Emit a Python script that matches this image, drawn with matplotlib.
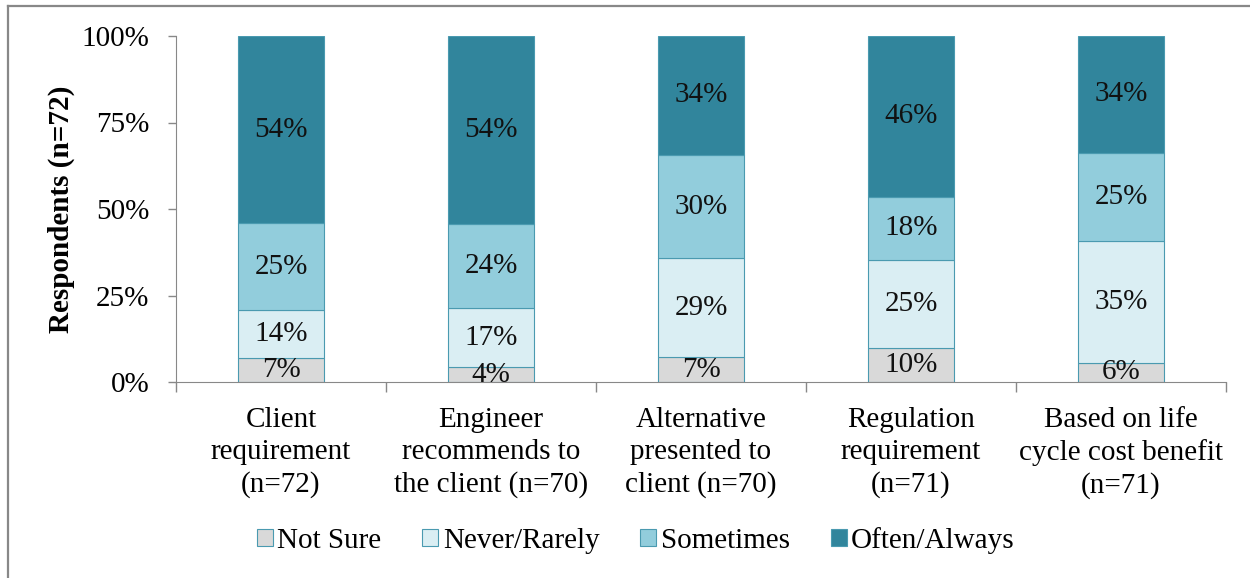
import numpy as np
import matplotlib.pyplot as plt
from matplotlib.lines import Line2D

categories = ["Client\nrequirement\n(n=72)",
              "Engineer\nrecommends to\nthe client (n=70)",
              "Alternative\npresented to\nclient (n=70)",
              "Regulation\nrequirement\n(n=71)",
              "Based on life\ncycle cost benefit\n(n=71)"]
series = ["Not Sure", "Never/Rarely", "Sometimes", "Often/Always"]
# respondent counts per answer (read from the percentages)
not_sure = np.array([5, 3, 5, 7, 4])
never = np.array([10, 12, 20, 18, 25])
sometimes = np.array([18, 17, 21, 13, 18])
often = np.array([39, 38, 24, 33, 24])
colors = ["#D9D9D9", "#DAEEF3", "#92CDDC", "#31859C"]

plt.rcParams['font.family'] = ['Liberation Serif', 'DejaVu Serif']

counts = np.vstack([not_sure, never, sometimes, often]).astype(float)
pct = counts / counts.sum(axis=0) * 100

fig = plt.figure(figsize=(12.5, 5.78), dpi=100)
ax = fig.add_axes([176 / 1250, 1 - 382 / 578, 1050 / 1250, 346 / 578])

x = np.arange(len(categories))
bottom = np.zeros(len(categories))
for i in range(len(series)):
    ax.bar(x, pct[i], 0.405, bottom=bottom, color=colors[i], edgecolor="#4A9AB0",
           linewidth=0.8, label=series[i], zorder=2)
    for j in range(len(categories)):
        ax.text(x[j], bottom[j] + pct[i][j] / 2, "%d%%" % round(pct[i][j]),
                ha="center", va="center", fontsize=21, color="#111111", zorder=3)
    bottom += pct[i]

ax.set_xlim(-0.5, len(categories) - 0.5)
ax.set_ylim(0, 100)
ax.set_yticks([0, 25, 50, 75, 100])
ax.set_yticklabels(["0%", "25%", "50%", "75%", "100%"], fontsize=21)
ax.set_xticks(x)
ax.set_xticklabels(categories, fontsize=21, linespacing=1.3)
ax.tick_params(axis="x", length=0, pad=18)
ax.tick_params(axis="y", length=6, color="#888888", width=1, pad=13)
# ticks between categories
ax.set_xticks(np.arange(-0.5, len(categories)), minor=True)
ax.tick_params(axis="x", which="minor", length=7, color="#888888", width=1, direction="out")
for s in ["top", "right"]:
    ax.spines[s].set_visible(False)
ax.spines["left"].set_color("#888888")
ax.spines["bottom"].set_color("#888888")
ax.set_ylabel("Respondents (n=72)", fontsize=21, fontweight="bold", labelpad=5)

ax.legend(loc="center", bbox_to_anchor=(0.438, -0.457), ncol=4, frameon=False,
          fontsize=21, handlelength=0.55, handleheight=0.55, handletextpad=0.15,
          columnspacing=1.4)

fig.add_artist(Line2D([8 / 1250, 8 / 1250], [0, 1 - 6 / 578], color="#888888", lw=1.6))
fig.add_artist(Line2D([8 / 1250, 1], [1 - 6 / 578, 1 - 6 / 578], color="#888888", lw=1.6))

fig.savefig("out.png", dpi=100)
